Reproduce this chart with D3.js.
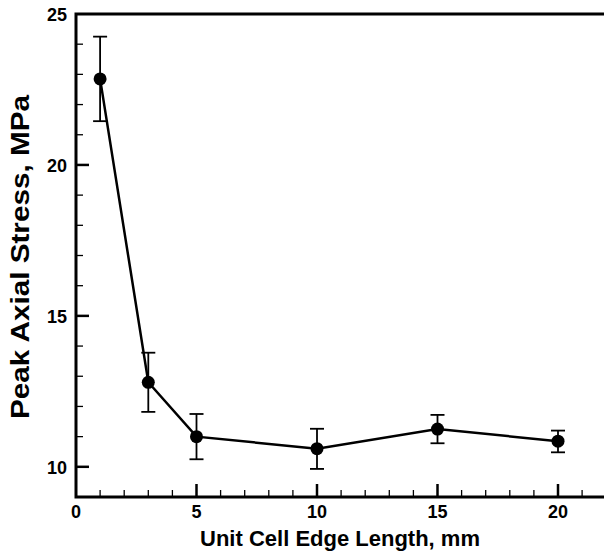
<!DOCTYPE html>
<html><head><meta charset="utf-8">
<script src="https://cdn.jsdelivr.net/npm/d3@7"></script>
<style>body{margin:0;background:#fff}svg{display:block}text{font-family:"Liberation Sans",Arial,sans-serif;font-weight:bold;fill:#000}</style>
</head><body>
<script>
const cellSizes = [1, 3, 5, 10, 15, 20];
const peakStress = [22.85, 12.8, 11.0, 10.6, 11.25, 10.85];
const errUpper = [24.25, 13.78, 11.75, 11.26, 11.72, 11.2];
const errLower = [21.45, 11.82, 10.25, 9.93, 10.78, 10.48];
const xMajorTicks = [0, 5, 10, 15, 20];
const yMajorTicks = [10, 15, 20, 25];
const xTitle = "Unit Cell Edge Length, mm";
const yTitle = "Peak Axial Stress, MPa";

const W = 604, H = 551;
const L = 76, T = 14, B = 497;
const x = d3.scaleLinear().domain([0, 22.5]).range([L, L + 22.5 * 24.1]);
const y = d3.scaleLinear().domain([9, 25]).range([B, T]);

const svg = d3.select("body").append("svg").attr("width", W).attr("height", H);

// minor ticks
const xMinor = d3.range(1, 23).filter(v => v % 5 !== 0);
const yMinor = d3.range(10, 25).filter(v => v % 5 !== 0);
svg.append("g").selectAll("line").data(xMinor).join("line")
  .attr("x1", d => x(d)).attr("x2", d => x(d)).attr("y1", B).attr("y2", B - 7)
  .attr("stroke", "#000").attr("stroke-width", 1.3);
svg.append("g").selectAll("line").data(yMinor).join("line")
  .attr("y1", d => y(d)).attr("y2", d => y(d)).attr("x1", L).attr("x2", L + 7)
  .attr("stroke", "#000").attr("stroke-width", 1.3);
// major ticks
svg.append("g").selectAll("line").data(xMajorTicks.filter(v => v > 0)).join("line")
  .attr("x1", d => x(d)).attr("x2", d => x(d)).attr("y1", B).attr("y2", B - 13)
  .attr("stroke", "#000").attr("stroke-width", 2.5);
svg.append("g").selectAll("line").data(yMajorTicks.filter(v => v < 25)).join("line")
  .attr("y1", d => y(d)).attr("y2", d => y(d)).attr("x1", L).attr("x2", L + 13)
  .attr("stroke", "#000").attr("stroke-width", 2.5);

// frame
svg.append("path")
  .attr("d", `M${x(22.5)},${y(25)}H${L}V${B}H${x(22.5)}`)
  .attr("fill", "none").attr("stroke", "#000").attr("stroke-width", 3);

// tick labels
svg.append("g").selectAll("text").data(xMajorTicks).join("text")
  .attr("x", d => x(d)).attr("y", B + 21).attr("text-anchor", "middle")
  .attr("font-size", 18).text(d => d);
svg.append("g").selectAll("text").data(yMajorTicks).join("text")
  .attr("x", L - 9).attr("y", d => y(d) + 7).attr("text-anchor", "end")
  .attr("font-size", 18).text(d => d);

// titles
svg.append("text").attr("x", 340).attr("y", 546).attr("text-anchor", "middle")
  .attr("font-size", 22).text(xTitle);
svg.append("text").attr("transform", `translate(29,257) rotate(-90)`)
  .attr("text-anchor", "middle").attr("font-size", 25)
  .attr("textLength", 324).attr("lengthAdjust", "spacingAndGlyphs").text(yTitle);

const data = cellSizes.map((c, i) => ({c, v: peakStress[i], hi: errUpper[i], lo: errLower[i]}));

// error bars
const eb = svg.append("g").attr("stroke", "#000").attr("stroke-width", 1.8);
data.forEach(d => {
  eb.append("line").attr("x1", x(d.c)).attr("x2", x(d.c)).attr("y1", y(d.hi)).attr("y2", y(d.lo));
  eb.append("line").attr("x1", x(d.c) - 7).attr("x2", x(d.c) + 7).attr("y1", y(d.hi)).attr("y2", y(d.hi));
  eb.append("line").attr("x1", x(d.c) - 7).attr("x2", x(d.c) + 7).attr("y1", y(d.lo)).attr("y2", y(d.lo));
});

// line
svg.append("path").datum(data)
  .attr("d", d3.line().x(d => x(d.c)).y(d => y(d.v)))
  .attr("fill", "none").attr("stroke", "#000").attr("stroke-width", 2.5);

// markers
svg.append("g").selectAll("circle").data(data).join("circle")
  .attr("cx", d => x(d.c)).attr("cy", d => y(d.v)).attr("r", 6.5).attr("fill", "#000");
</script>
</body></html>
